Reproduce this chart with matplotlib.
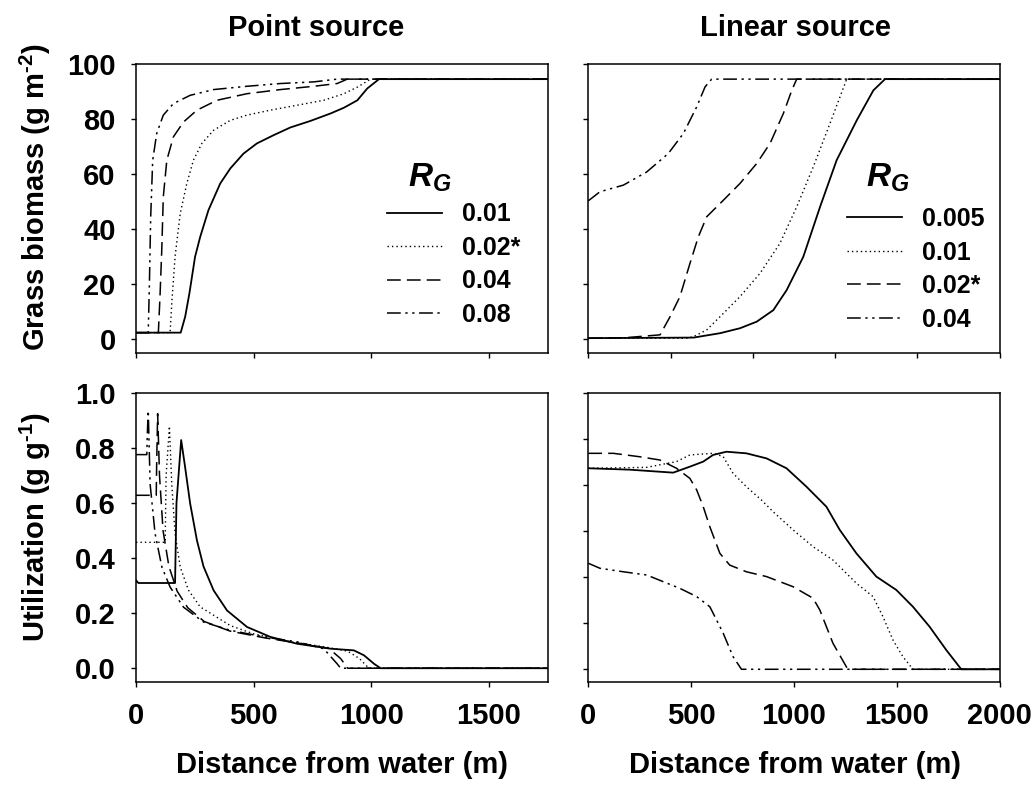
import matplotlib
matplotlib.use("Agg")
import matplotlib.pyplot as plt

plt.rcParams['font.family'] = ['Liberation Sans', 'DejaVu Sans']
plt.rcParams['font.weight'] = 'bold'
plt.rcParams['mathtext.fontset'] = 'custom'
plt.rcParams['mathtext.rm'] = 'Liberation Sans:bold'
plt.rcParams['mathtext.it'] = 'Liberation Sans:bold:italic'
plt.rcParams['mathtext.bf'] = 'Liberation Sans:bold'

# ---- point source: grass biomass (g m-2) ----
pt_bio_x_001 = [0, 190, 209, 227, 251, 273, 308, 358, 401, 457, 514, 585, 656, 742, 827, 884, 941, 983, 1033, 1750]
pt_bio_001 = [2.3, 2.3, 8.1, 16.6, 29.9, 37.2, 46.9, 56.6, 62.1, 67.5, 71.2, 74.2, 77.0, 79.4, 82.1, 84.2, 86.9, 91.2, 94.6, 94.6]
pt_bio_x_002 = [0, 145, 152, 166, 188, 216, 244, 280, 330, 401, 472, 571, 685, 798, 884, 941, 997, 1750]
pt_bio_002 = [2.3, 2.3, 13, 29.9, 45.7, 56.6, 65.1, 71.2, 76, 79.6, 81.5, 83.3, 85.1, 86.9, 89.3, 91.7, 94.6, 94.6]
pt_bio_x_004 = [0, 95, 102, 109.5, 116, 131, 159, 202, 259, 344, 472, 614, 756, 855, 898, 1750]
pt_bio_004 = [2.3, 2.3, 15.4, 32.4, 51.7, 65.1, 73.6, 79, 83.3, 86.9, 89.3, 90.8, 92, 93, 94.6, 94.6]
pt_bio_x_008 = [0, 52, 57, 62.5, 71, 88, 116, 159, 230, 330, 472, 614, 756, 855, 1750]
pt_bio_008 = [2.3, 2.3, 20.2, 44.5, 65.1, 74.8, 81.5, 85.7, 88.7, 90.8, 92, 93, 93.6, 94.6, 94.6]

# ---- point source: utilization (g g-1) ----
pt_use_x_001 = [0, 10, 166, 172, 192, 209, 230, 259, 287, 330, 387, 472, 571, 685, 827, 926, 969, 1012, 1040, 1750]
pt_use_001 = [0.32, 0.31, 0.31, 0.60, 0.83, 0.73, 0.60, 0.465, 0.37, 0.283, 0.21, 0.15, 0.114, 0.089, 0.071, 0.065, 0.047, 0.016, 0.0, 0.0]
pt_use_x_002 = [0, 124, 128, 142, 152, 166, 188, 223, 273, 401, 500, 650, 800, 900, 950, 990, 1750]
pt_use_002 = [0.458, 0.458, 0.70, 0.88, 0.67, 0.49, 0.368, 0.284, 0.223, 0.155, 0.125, 0.097, 0.078, 0.062, 0.035, 0.0, 0.0]
pt_use_x_004 = [0, 86, 88, 92, 100, 115, 140, 175, 220, 290, 400, 550, 700, 820, 870, 900, 1750]
pt_use_004 = [0.629, 0.629, 0.75, 0.926, 0.70, 0.50, 0.37, 0.28, 0.22, 0.17, 0.135, 0.11, 0.09, 0.072, 0.035, 0.0, 0.0]
pt_use_x_008 = [0, 46, 48, 52, 60, 81, 110, 145, 202, 287, 401, 543, 685, 798, 855, 870, 1750]
pt_use_008 = [0.777, 0.777, 0.85, 0.937, 0.67, 0.49, 0.368, 0.295, 0.222, 0.168, 0.138, 0.114, 0.096, 0.071, 0.016, 0.0, 0.0]

# ---- linear source: grass biomass (g m-2) ----
ln_bio_x_0005 = [0, 640, 801, 922, 1024, 1125, 1206, 1307, 1409, 1510, 1632, 1733, 1804, 2500]
ln_bio_0005 = [0.3, 0.5, 2.1, 3.9, 6.3, 10.5, 17.8, 29.9, 48.1, 65.1, 79.6, 90.5, 94.6, 94.6]
ln_bio_x_001 = [0, 600, 638, 720, 821, 922, 1044, 1165, 1267, 1368, 1469, 1530, 1571, 2500]
ln_bio_001 = [0.3, 0.3, 0.8, 3.3, 9.3, 15.4, 23.9, 34.8, 48.1, 62.7, 78.4, 88.1, 94.6, 94.6]
ln_bio_x_002 = [0, 213, 436, 497, 557, 618, 669, 720, 821, 922, 1024, 1105, 1186, 1237, 1267, 2500]
ln_bio_002 = [0.3, 0.4, 1.5, 8.1, 15.4, 27.5, 37.2, 44.5, 50.5, 56.6, 63.9, 71.2, 82.1, 90.5, 94.6, 94.6]
ln_bio_x_004 = [0, 71, 213, 355, 486, 578, 659, 710, 750, 2500]
ln_bio_004 = [50.3, 53.6, 56, 60.8, 67.5, 74.8, 84.5, 91.8, 94.6, 94.6]

# ---- linear source: utilization ----
ln_use_x_0005 = [0, 200, 413, 494, 559, 607, 672, 769, 867, 964, 1061, 1158, 1223, 1304, 1401, 1498, 1579, 1660, 1741, 1814, 2000]
ln_use_0005 = [0.874, 0.868, 0.855, 0.881, 0.903, 0.932, 0.946, 0.939, 0.917, 0.874, 0.794, 0.707, 0.606, 0.504, 0.403, 0.345, 0.272, 0.185, 0.084, 0.0, 0.0]
ln_use_x_001 = [0, 284, 429, 494, 607, 656, 704, 769, 842, 899, 996, 1093, 1190, 1304, 1385, 1433, 1482, 1530, 1579, 2000]
ln_use_001 = [0.874, 0.878, 0.903, 0.932, 0.939, 0.925, 0.852, 0.794, 0.736, 0.685, 0.606, 0.533, 0.475, 0.374, 0.316, 0.229, 0.127, 0.055, 0.0, 0.0]
ln_use_x_002 = [0, 122, 251, 348, 429, 494, 527, 559, 591, 640, 688, 769, 867, 996, 1093, 1126, 1190, 1255, 1263, 2000]
ln_use_002 = [0.939, 0.939, 0.924, 0.91, 0.874, 0.83, 0.78, 0.707, 0.62, 0.504, 0.453, 0.424, 0.403, 0.359, 0.309, 0.258, 0.113, 0.011, 0.0, 0.0]
ln_use_x_004 = [0, 57, 170, 284, 364, 445, 527, 591, 624, 656, 704, 745, 2000]
ln_use_004 = [0.461, 0.439, 0.424, 0.41, 0.381, 0.352, 0.316, 0.272, 0.214, 0.157, 0.055, 0.0, 0.0]

pt_labels = ['0.01', '0.02*', '0.04', '0.08']
ln_labels = ['0.005', '0.01', '0.02*', '0.04']

# line styles: solid, dotted, dashed, dash-dot-dot
STYLES = [
    dict(ls='-', lw=1.3),
    dict(ls=(0, (1, 2.2)), lw=1.0),
    dict(ls=(0, (9, 4)), lw=1.1),
    dict(ls=(0, (9, 3, 1.5, 3, 1.5, 3)), lw=1.1),
]

W, H = 1034, 785
fig = plt.figure(figsize=(W / 100, H / 100), dpi=100)

def rect(x0, x1, y0, y1):
    return [x0 / W, 1 - y1 / H, (x1 - x0) / W, (y1 - y0) / H]

ax_tl = fig.add_axes(rect(136, 547.7, 64.3, 352.7))
ax_tr = fig.add_axes(rect(588.3, 999.5, 64.3, 352.7))
ax_bl = fig.add_axes(rect(136, 547.7, 393.3, 681.7))
ax_br = fig.add_axes(rect(588.3, 999.5, 393.3, 681.7))

series = {
    ax_tl: [(pt_bio_x_001, pt_bio_001), (pt_bio_x_002, pt_bio_002), (pt_bio_x_004, pt_bio_004), (pt_bio_x_008, pt_bio_008)],
    ax_bl: [(pt_use_x_001, pt_use_001), (pt_use_x_002, pt_use_002), (pt_use_x_004, pt_use_004), (pt_use_x_008, pt_use_008)],
    ax_tr: [(ln_bio_x_0005, ln_bio_0005), (ln_bio_x_001, ln_bio_001), (ln_bio_x_002, ln_bio_002), (ln_bio_x_004, ln_bio_004)],
    ax_br: [(ln_use_x_0005, ln_use_0005), (ln_use_x_001, ln_use_001), (ln_use_x_002, ln_use_002), (ln_use_x_004, ln_use_004)],
}
labels = {ax_tl: pt_labels, ax_bl: pt_labels, ax_tr: ln_labels, ax_br: ln_labels}

for ax, data in series.items():
    for (xs, ys), st, lab in zip(data, STYLES, labels[ax]):
        ax.plot(xs, ys, color='black', label=lab, **st)

# axis ranges and ticks
ax_tl.set_xlim(0, 1750); ax_tl.set_ylim(-5, 100)
ax_bl.set_xlim(0, 1750); ax_bl.set_ylim(-0.049, 1.0)
ax_tr.set_xlim(0, 2500); ax_tr.set_ylim(-5, 100)
ax_br.set_xlim(0, 2000); ax_br.set_ylim(-0.054, 1.2)

ax_tl.set_xticks([0, 500, 1000, 1500]); ax_bl.set_xticks([0, 500, 1000, 1500])
ax_tr.set_xticks([0, 500, 1000, 1500, 2000, 2500]); ax_br.set_xticks([0, 500, 1000, 1500, 2000])
ax_tl.set_yticks([0, 20, 40, 60, 80, 100]); ax_tr.set_yticks([0, 20, 40, 60, 80, 100])
ax_bl.set_yticks([0, 0.2, 0.4, 0.6, 0.8, 1.0]); ax_br.set_yticks([0, 0.2, 0.4, 0.6, 0.8, 1.0, 1.2])
ax_bl.set_yticklabels(['0.0', '0.2', '0.4', '0.6', '0.8', '1.0'])

for ax in (ax_tl, ax_tr, ax_bl, ax_br):
    for sp in ax.spines.values():
        sp.set_linewidth(1.1)
    ax.tick_params(direction='out', length=3.5, width=1.0, labelsize=21, pad=11)

ax_tl.tick_params(labelbottom=False)
ax_tr.tick_params(labelbottom=False, labelleft=False)
ax_br.tick_params(labelleft=False)

# titles and axis labels
fig.text(316 / W, 1 - 28 / H, 'Point source', ha='center', va='center', fontsize=21, fontweight='bold')
fig.text(795 / W, 1 - 28 / H, 'Linear source', ha='center', va='center', fontsize=21, fontweight='bold')
fig.text(342 / W, 1 - 765 / H, 'Distance from water (m)', ha='center', va='center', fontsize=21, fontweight='bold')
fig.text(795 / W, 1 - 765 / H, 'Distance from water (m)', ha='center', va='center', fontsize=21, fontweight='bold')
fig.text(35 / W, 1 - 197 / H, r'Grass biomass (g m$^{\text{-}2}$)', rotation=90, ha='center', va='center', fontsize=21, fontweight='bold')
fig.text(35 / W, 1 - 527 / H, r'Utilization (g g$^{\text{-}1}$)', rotation=90, ha='center', va='center', fontsize=21, fontweight='bold')

# legends with R_G heading
for ax, x_leg, y_leg, x_rg in ((ax_tl, 0.609, 0.521, 0.661), (ax_tr, 0.628, 0.505, 0.675)):
    ax.text(x_rg, 0.608, r'$R_G$', transform=ax.transAxes, fontsize=24, ha='left', va='center')
    ax.legend(loc='upper left', bbox_to_anchor=(x_leg, y_leg), frameon=False, fontsize=18,
              handlelength=2.2, handletextpad=0.8, labelspacing=0.38, borderpad=0, borderaxespad=0)

fig.savefig('out.png', dpi=100)
